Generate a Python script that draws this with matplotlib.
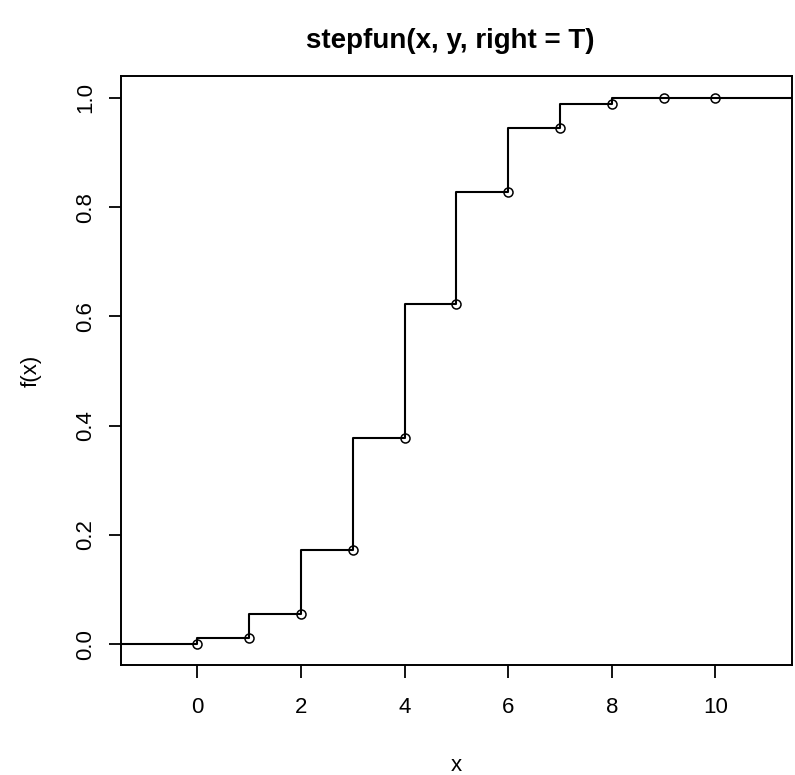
import numpy as np
import matplotlib
matplotlib.use('Agg')
from matplotlib import pyplot as plt

plt.rcParams['font.family'] = ['Liberation Sans', 'DejaVu Sans']

# knots and step levels (first level is left of the first knot)
knots = [0, 1, 2, 3, 4, 5, 6, 7, 8, 9, 10]
levels = [0.001, 0.011, 0.055, 0.172, 0.377, 0.623, 0.828, 0.945, 0.989, 0.999, 1.0, 1.0]
xticks = [0, 2, 4, 6, 8, 10]
yticks = [0.0, 0.2, 0.4, 0.6, 0.8, 1.0]

xlo, xhi = -1.48, 11.48
ylo, yhi = -0.039, 1.04

fig = plt.figure(figsize=(7.95, 7.75), dpi=100)
ax = fig.add_axes([0.152, 0.1413, 0.8442, 0.7607])

xs = np.r_[xlo, knots, xhi]
ys = np.r_[levels, levels[-1]]
ax.step(xs, ys, where='post', color='black', lw=1.5)
# right = T: value at each knot is the level on its left
ax.plot(knots, levels[:-1], 'o', mfc='none', mec='black', ms=6.5, mew=1.1)

ax.set_xlim(xlo, xhi)
ax.set_ylim(ylo, yhi)
ax.set_xticks(xticks)
ax.set_xticklabels([str(v) for v in xticks])
ax.set_yticks(yticks)
ax.set_yticklabels(['%.1f' % v for v in yticks], rotation=90, va='center')
ax.tick_params(direction='out', length=9, width=1.3, labelsize=16)
ax.tick_params(axis='x', pad=14)
ax.tick_params(axis='y', pad=9)
for s in ax.spines.values():
    s.set_linewidth(1.4)

ax.set_xlabel('x', fontsize=16, labelpad=26)
ax.set_ylabel('f(x)', fontsize=16, labelpad=24)
ax.set_title('stepfun(x, y, right = T)', fontsize=20, fontweight='bold', pad=20,
             x=0.491)

fig.savefig('out.png', dpi=100)
